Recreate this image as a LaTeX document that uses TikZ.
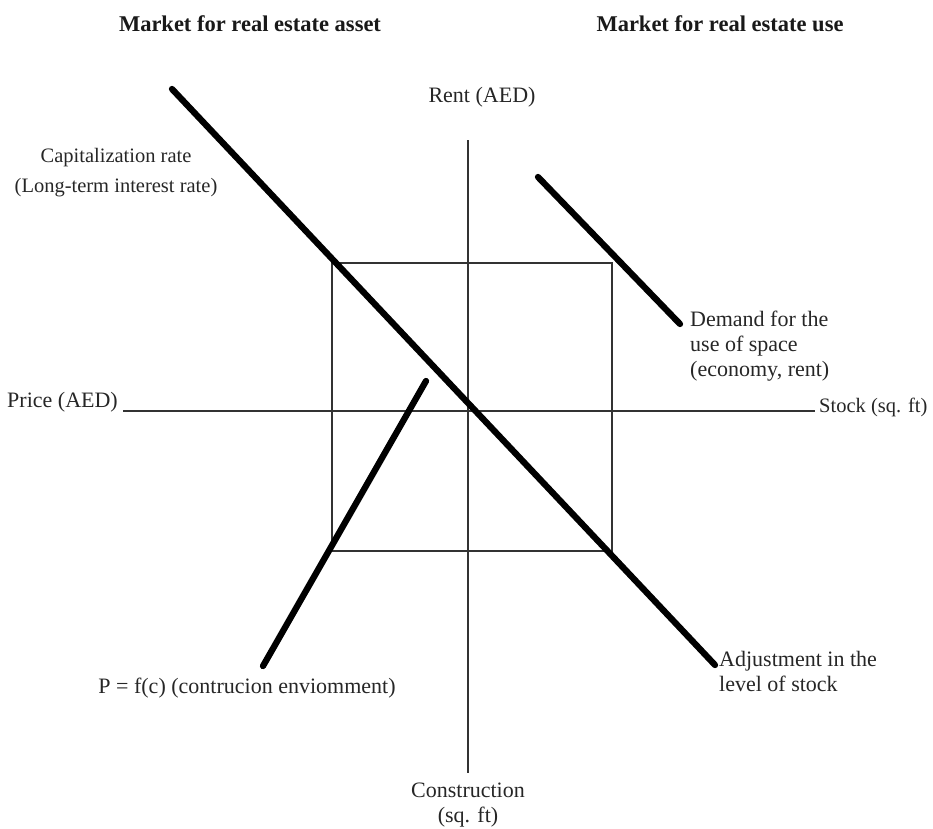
\documentclass[tikz,border=0pt]{standalone}
\usepackage{fontspec}
\setmainfont{Liberation Serif}
\begin{document}
\begin{tikzpicture}[x=1pt,y=-1pt,
  lbl/.style={font=\fontsize{22}{25}\selectfont, text=black!85, inner sep=0pt},
  smalllbl/.style={lbl, font=\fontsize{20.5}{25}\selectfont},
  ttl/.style={font=\fontsize{22.5}{24}\selectfont\bfseries, text=black!90, inner sep=0pt},
  axisline/.style={line width=1.3pt, draw=black!80},
  curveline/.style={line width=6.3pt, line cap=round}]
\useasboundingbox (0,0) rectangle (933,828);
% titles
\node[ttl] (tA) at (250,24) {Market for real estate asset};
\node[ttl] (tU) at (720,24) {Market for real estate use};
% axis labels
\node[lbl] (rent) at (482,97) {Rent (AED)};
\node[lbl, anchor=base east] (price) at (118,407) {Price (AED)};
\node[smalllbl, anchor=base west] (stock) at (819,412) {Stock (sq. ft)};
\node[lbl, align=center] (cons) at (468,805) {Construction\\(sq. ft)};
% curve labels
\node[smalllbl, align=center] (cap) at (116,173) {Capitalization rate\\[5pt](Long-term interest rate)};
\node[lbl, align=left, anchor=north west] (dem) at (690,311) {Demand for the\\use of space\\(economy, rent)};
\node[lbl] (pf) at (247,688) {P = f(c) (contrucion enviomment)};
\node[lbl, align=left, anchor=north west] (adj) at (719,651) {Adjustment in the\\level of stock};
% axes
\coordinate (vtop) at (468,140);
\coordinate (vbot) at (468,773);
\coordinate (hl) at (123,411);
\coordinate (hr) at (815,411);
\draw[axisline] (vtop) -- (vbot);
\draw[axisline] (hl) -- (hr);
% square
\coordinate (sq1) at (332,263);
\coordinate (sq2) at (612,551);
\draw[axisline] (sq1) rectangle (sq2);
% curves
\coordinate (c1a) at (172,89);
\coordinate (c1b) at (715,665);
\coordinate (c2a) at (538,177);
\coordinate (c2b) at (680,324);
\coordinate (c3a) at (426,381);
\coordinate (c3b) at (263,666);
\draw[curveline] (c1a) -- (c1b);
\draw[curveline] (c2a) -- (c2b);
\draw[curveline] (c3a) -- (c3b);
\end{tikzpicture}
\end{document}
